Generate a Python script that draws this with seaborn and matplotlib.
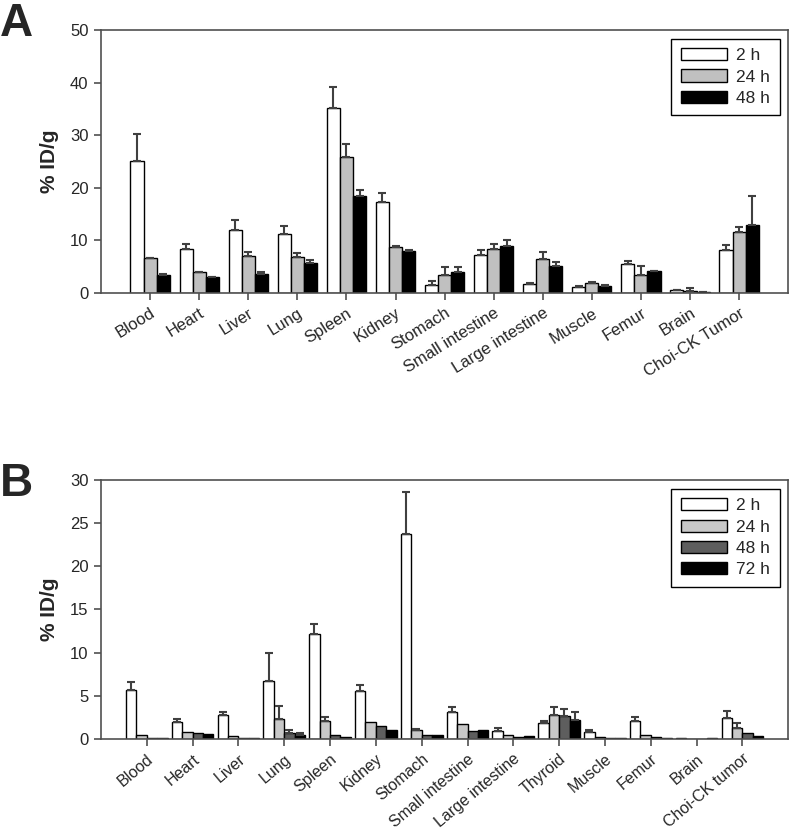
import numpy as np
import pandas as pd
import matplotlib
matplotlib.use("Agg")
import matplotlib.pyplot as plt
import seaborn as sns

sns.set_style("ticks")
plt.rcParams['font.family'] = ['Liberation Sans', 'DejaVu Sans']

# ---------------- Panel A data ----------------
organs_a = ["Blood", "Heart", "Liver", "Lung", "Spleen", "Kidney", "Stomach",
            "Small intestine", "Large intestine", "Muscle", "Femur", "Brain",
            "Choi-CK Tumor"]
times_a = ["2 h", "24 h", "48 h"]
a_2h = [25.1, 8.4, 12.0, 11.1, 35.1, 17.2, 1.5, 7.2, 1.7, 1.1, 5.4, 0.45, 8.1]
a_24h = [6.6, 3.9, 7.0, 6.8, 25.9, 8.8, 3.4, 8.4, 6.5, 1.9, 3.4, 0.3, 11.6]
a_48h = [3.4, 3.0, 3.5, 5.7, 18.5, 8.0, 3.9, 9.0, 5.1, 1.4, 4.2, 0.15, 13.0]
a_2h_err = [5.2, 0.8, 1.8, 1.7, 4.1, 1.7, 0.7, 1.0, 0.15, 0.15, 0.7, 0.12, 0.95]
a_24h_err = [0.1, 0.15, 0.8, 0.7, 2.5, 0.15, 1.5, 0.8, 1.3, 0.1, 1.7, 0.7, 0.9]
a_48h_err = [0.1, 0.1, 0.4, 0.5, 1.1, 0.2, 1.0, 1.1, 0.7, 0.05, 0.05, 0.03, 5.5]

# ---------------- Panel B data ----------------
organs_b = ["Blood", "Heart", "Liver", "Lung", "Spleen", "Kidney", "Stomach",
            "Small intestine", "Large intestine", "Thyroid", "Muscle", "Femur",
            "Brain", "Choi-CK tumor"]
times_b = ["2 h", "24 h", "48 h", "72 h"]
b_2h = [5.7, 2.0, 2.8, 6.7, 12.2, 5.5, 23.8, 3.1, 0.9, 1.8, 0.75, 2.1, 0.15, 2.4]
b_24h = [0.5, 0.8, 0.27, 2.35, 2.1, 2.0, 1.05, 1.7, 0.43, 2.8, 0.2, 0.5, 0.02, 1.2]
b_48h = [0.15, 0.65, 0.15, 0.7, 0.45, 1.43, 0.5, 0.85, 0.23, 2.7, 0.08, 0.2, 0.02, 0.62]
b_72h = [0.08, 0.55, 0.1, 0.5, 0.23, 1.0, 0.5, 1.0, 0.31, 2.15, 0.04, 0.08, 0.15, 0.27]
b_2h_err = [0.85, 0.3, 0.35, 3.2, 1.1, 0.7, 4.8, 0.55, 0.35, 0.3, 0.25, 0.4, 0.0, 0.85]
b_24h_err = [0.0, 0.0, 0.0, 1.5, 0.45, 0.0, 0.08, 0.0, 0.0, 0.85, 0.0, 0.0, 0.0, 0.65]
b_48h_err = [0.0, 0.0, 0.0, 0.27, 0.0, 0.0, 0.0, 0.0, 0.0, 0.75, 0.0, 0.0, 0.0, 0.0]
b_72h_err = [0.0, 0.0, 0.0, 0.2, 0.0, 0.0, 0.0, 0.0, 0.0, 0.95, 0.0, 0.0, 0.0, 0.0]

colors_a = ["#ffffff", "#c0c0c0", "#000000"]
colors_b = ["#ffffff", "#c8c8c8", "#5e5e5e", "#000000"]


def make_df(organs, times, vals):
    rows = []
    for t, v in zip(times, vals):
        for o, y in zip(organs, v):
            rows.append({"organ": o, "time": t, "value": y})
    return pd.DataFrame(rows)


df_a = make_df(organs_a, times_a, [a_2h, a_24h, a_48h])
df_b = make_df(organs_b, times_b, [b_2h, b_24h, b_48h, b_72h])

fig = plt.figure(figsize=(7.89, 8.32), dpi=100)
ax_a = fig.add_axes([0.128, 0.648, 0.871, 0.316])
ax_b = fig.add_axes([0.128, 0.112, 0.871, 0.311])

spine_col = "#505050"


def draw(ax, df, organs, times, colors, errs, width, ylim, yticks, rot, xls):
    sns.barplot(data=df, x="organ", y="value", hue="time", order=organs,
                hue_order=times, palette=colors, errorbar=None, width=width,
                edgecolor="black", linewidth=1.0, saturation=1, ax=ax,
                legend=True)
    for cont, err in zip(ax.containers, errs):
        xs = [b.get_x() + b.get_width() / 2 for b in cont]
        ys = [b.get_height() for b in cont]
        e = np.array(err)
        mask = e > 0
        ax.errorbar(np.array(xs)[mask], np.array(ys)[mask],
                    yerr=[np.zeros(mask.sum()), e[mask]], fmt="none",
                    ecolor="#404040", elinewidth=1.5, capsize=3, capthick=1.5,
                    zorder=3)
    ax.set_xlim(-1, len(organs))
    ax.set_ylim(*ylim)
    ax.set_yticks(yticks)
    ax.set_xlabel("")
    ax.set_ylabel("% ID/g", fontsize=15, fontweight="bold", labelpad=8)
    ax.tick_params(axis="both", labelsize=12, color=spine_col, length=5,
                   width=1.2, direction="out", pad=4)
    ax.set_xticks(range(len(organs)))
    ax.set_xticklabels(organs, rotation=rot, ha="right",
                       rotation_mode="anchor", fontsize=xls)
    for s in ax.spines.values():
        s.set_color(spine_col)
        s.set_linewidth(1.2)
    handles, labels = ax.get_legend_handles_labels()
    ax.legend(handles=handles, labels=labels, loc="upper right",
              fontsize=12.5, frameon=True, fancybox=False, framealpha=1,
              edgecolor="black", handlelength=2.7, handleheight=0.7,
              handletextpad=0.5, labelspacing=0.35, borderpad=0.55,
              borderaxespad=0.5)
    ax.get_legend().get_frame().set_linewidth(1.0)


draw(ax_a, df_a, organs_a, times_a, colors_a,
     [a_2h_err, a_24h_err, a_48h_err], 0.8, (0, 50), range(0, 51, 10), 32,
     12)
draw(ax_b, df_b, organs_b, times_b, colors_b,
     [b_2h_err, b_24h_err, b_48h_err, b_72h_err], 0.91, (0, 30),
     range(0, 31, 5), 40, 11.5)

fig.text(0.0, 0.998, "A", fontsize=33, fontweight="bold", ha="left", va="top")
fig.text(0.0, 0.445, "B", fontsize=33, fontweight="bold", ha="left", va="top")

fig.savefig("out.png", dpi=100)
